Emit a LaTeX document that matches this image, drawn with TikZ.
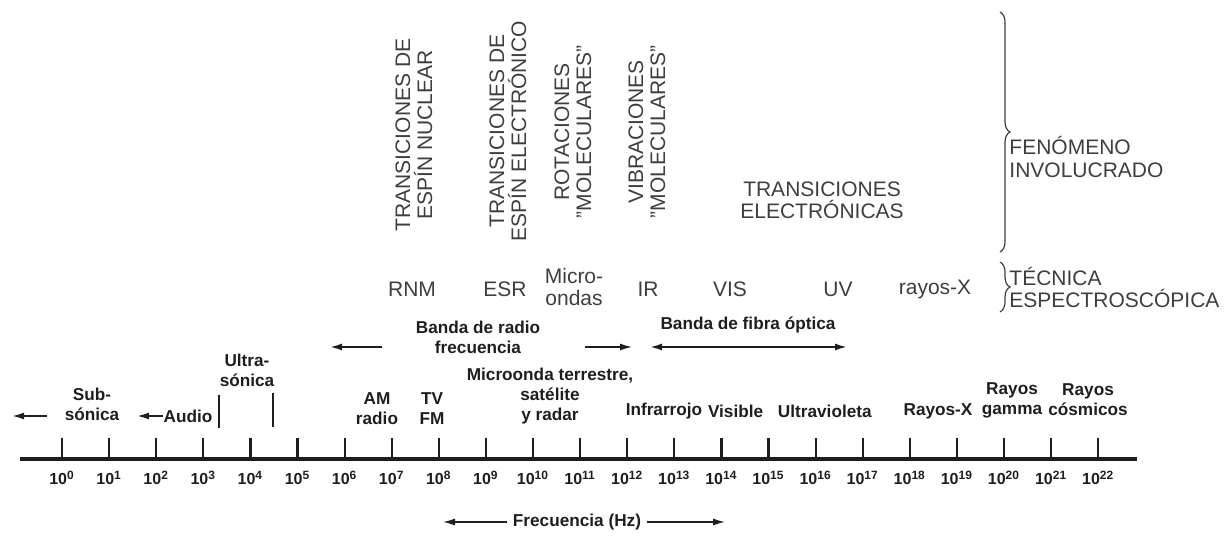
\documentclass[tikz,border=0pt]{standalone}
\usepackage{fontspec}
\setmainfont{Liberation Sans}
\usetikzlibrary{arrows.meta,positioning,decorations.pathreplacing}

\definecolor{topgrey}{RGB}{62,62,62}
\definecolor{ink}{RGB}{30,30,30}
\newcommand{\phenfont}{\fontsize{10.5}{11}\selectfont}
\newcommand{\bandfont}{\fontsize{8.6}{10}\selectfont\bfseries}
\newcommand{\expofont}{\fontsize{8}{9}\selectfont\bfseries}

\begin{document}
\begin{tikzpicture}[
  x=0.5pt, y=-0.5pt,
  phen/.style={text=topgrey, font=\phenfont, align=center, inner sep=0pt},
  vphen/.style={phen, rotate=90},
  band/.style={text=ink, font=\bandfont, align=center, inner sep=0pt},
  expo/.style={text=ink, font=\expofont, inner sep=0pt},
  tickmark/.style={draw=ink, line width=1.1pt},
  bar/.style={draw=ink, line width=1.3pt},
  axis/.style={draw=ink, line width=1.6pt},
  arrow/.style={-{Latex[length=6pt,width=3.5pt]}, draw=ink, line width=0.9pt},
  twoway/.style={{Latex[length=6pt,width=3.5pt]}-{Latex[length=6pt,width=3.5pt]}, draw=ink, line width=0.9pt},
  brace/.style={draw=topgrey, line width=0.6pt, decorate, decoration={brace, amplitude=5pt}}
]
\useasboundingbox (0,0) rectangle (1224,539);

% phenomena (rotated)
\node[vphen] (nuclear) at (414,135) {TRANSICIONES DE\\ESPÍN NUCLEAR};
\node[vphen] (espin) at (508,131) {TRANSICIONES DE\\ESPÍN ELECTRÓNICO};
\node[vphen] (rotac) at (573,132) {ROTACIONES\\"MOLECULARES"};
\node[vphen] (vibrac) at (647,132) {VIBRACIONES\\"MOLECULARES"};
\node[phen] (electr) at (822,200) {TRANSICIONES\\ELECTRÓNICAS};

% spectroscopic techniques
\node[phen] (rnm) at (412,289) {RNM};
\node[phen] (esr) at (505,289) {ESR};
\node[phen] (micro) at (574,287) {Micro-\\ondas};
\node[phen] (ir) at (648,289) {IR};
\node[phen] (vis) at (730,289) {VIS};
\node[phen] (uv) at (838,289) {UV};
\node[phen] (rx) at (935,289) {rayos-X};

% braces on the right
\coordinate (phenTop) at (1000,12);
\coordinate (phenBot) at (1000,252);
\draw[brace] (phenTop) -- (phenBot);
\node[phen, anchor=west, align=left] (phenlab) at (1009,157) {FENÓMENO\\INVOLUCRADO};
\coordinate (techTop) at (1000,262);
\coordinate (techBot) at (1000,312);
\draw[brace] (techTop) -- (techBot);
\node[phen, anchor=west, align=left] (techlab) at (1009,287) {TÉCNICA\\ESPECTROSCÓPICA};

% bands
\node[band] (radioband) at (478,337) {Banda de radio\\frecuencia};
\coordinate (rfA) at (382,347);
\coordinate (rfB) at (330,347);
\draw[arrow] (rfA) -- (rfB);
\coordinate (mwA) at (585,347);
\coordinate (mwB) at (632,347);
\draw[arrow, line width=0.6pt] (mwA) -- (mwB);
\node[band] (fibre) at (748,325) {Banda de fibra óptica};
\coordinate (fibL) at (650,347);
\coordinate (fibR) at (847,347);
\draw[twoway] (fibL) -- (fibR);

% labels over the scale
\node[band] (sub) at (92,404) {Sub-\\sónica};
\coordinate (subA) at (47,416);
\coordinate (subB) at (12,416);
\draw[arrow] (subA) -- (subB);
\node[band] (audio) at (188,416) {Audio};
\coordinate (audL) at (137,416);
\draw[arrow] (audio.west) -- (audL);
\coordinate (usAt) at (219,395);
\coordinate (usAb) at (219,428);
\coordinate (usBt) at (273,393);
\coordinate (usBb) at (273,427);
\draw[bar] (usAt) -- (usAb);
\draw[bar] (usBt) -- (usBb);
\node[band] (ultra) at (247,370) {Ultra-\\sónica};
\node[band] (am) at (377,409) {AM\\radio};
\node[band] (tvfm) at (432,409) {TV\\FM};
\node[band] (mwave) at (550,396) {Microonda terrestre,\\satélite\\y radar};
\node[band] (infra) at (664,411) {Infrarrojo};
\node[band, right=2.5pt of infra] (visible) {Visible};
\node[band, right=7pt of visible] (ultrav) {Ultravioleta};
\node[band] (xray) at (938,411) {Rayos-X};
\node[band] (gamma) at (1012,400) {Rayos\\gamma};
\node[band] (cosmic) at (1088,400) {Rayos\\cósmicos};

% frequency scale
\coordinate (axL) at (20,459);
\coordinate (axR) at (1137,459);
\draw[axis] (axL) -- (axR);
\foreach \n in {0,...,22} {
  \draw[tickmark] (62+47.1*\n,438) -- (62+47.1*\n,459);
  \node[expo] (e\n) at (62+47.1*\n,478) {10\textsuperscript{\n}};
}

\node[band] (freq) at (577,522) {Frecuencia (Hz)};
\coordinate (fqL) at (443,522);
\coordinate (fqR) at (725,522);
\draw[arrow, line width=0.7pt] ([xshift=-3pt]freq.west) -- (fqL);
\draw[arrow, line width=0.7pt] ([xshift=3pt]freq.east) -- (fqR);

\end{tikzpicture}
\end{document}
